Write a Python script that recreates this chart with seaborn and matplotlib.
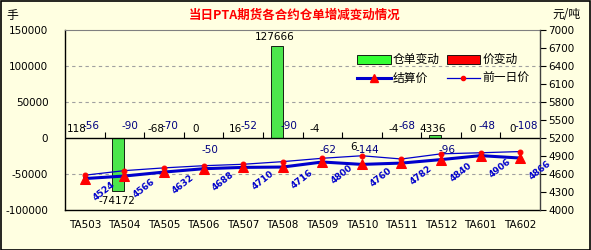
import matplotlib
matplotlib.use("Agg")
import matplotlib.pyplot as plt
import matplotlib.lines as mlines
import matplotlib.patches as mpatches
import pandas as pd
import seaborn as sns

contracts = ['TA503', 'TA504', 'TA505', 'TA506', 'TA507', 'TA508',
             'TA509', 'TA510', 'TA511', 'TA512', 'TA601', 'TA602']
warrant_change = [118, -74172, -68, 0, 16, 127666, -4, 6, -4, 4336, 0, 0]
price_change = [-56, -90, -70, -50, -52, -90, -62, -144, -68, -96, -48, -108]
settle_price = [4524, 4566, 4632, 4688, 4710, 4716, 4800, 4760, 4782, 4840, 4906, 4866]
prev_price = [4580, 4656, 4702, 4738, 4762, 4806, 4862, 4904, 4850, 4936, 4954, 4974]
left_ticks = [-100000, -50000, 0, 50000, 100000, 150000]
right_ticks = [4000, 4300, 4600, 4900, 5200, 5500, 5800, 6100, 6400, 6700, 7000]

# label placement styles (1 above, -1 below)
price_label_side = [1, 1, 1, -1, 1, 1, -1, -1, 1, -1, 1, 1]
warrant_label_side = [1, -1, 1, 1, 1, 1, 1, -1, 1, 1, 1, 1]

BG = '#FFFFE1'
plt.rcParams['font.family'] = ['DejaVu Sans', 'Noto Sans CJK SC']

fig = plt.figure(figsize=(5.91, 2.50), dpi=100, facecolor=BG)
ax = fig.add_axes([65/591, 40/250, 475/591, 180/250])
ax.set_facecolor(BG)

bars = pd.DataFrame({
    'contract': contracts * 2,
    'value': warrant_change + price_change,
    'kind': ['仓单变动'] * len(contracts) + ['价变动'] * len(contracts),
})
sns.barplot(data=bars, x='contract', y='value', hue='kind',
            palette={'仓单变动': '#33FF33', '价变动': '#FF0000'},
            width=0.6, edgecolor='#000000', linewidth=0.6,
            legend=False, ax=ax, zorder=3)

ax.set_ylim(-100000, 150000)
ax.set_xlim(-0.5, len(contracts) - 0.5)
ax.set_yticks(left_ticks)
ax.set_yticklabels([str(v) for v in left_ticks], fontsize=7.5)
ax.set_xlabel('')
ax.set_ylabel('')
ax.tick_params(axis='x', length=0, labelsize=7.5, pad=7)
ax.tick_params(axis='y', length=0, pad=12)
for v in left_ticks:
    if v not in (0, -100000, 150000):
        ax.axhline(v, color='#A0A0A0', lw=0.8, ls=(0, (3, 3)), zorder=1)
ax.axhline(0, color='#000000', lw=1.0, zorder=4)
for s in ['left', 'bottom']:
    ax.spines[s].set_color('#000000')
    ax.spines[s].set_linewidth(1.0)
ax.spines['top'].set_color('#808080')
ax.spines['top'].set_linewidth(0.8)
ax.spines['right'].set_visible(False)

# small boundary ticks on the zero line
sec = ax.secondary_xaxis(0.4)
sec.set_xticks([i + 0.5 for i in range(len(contracts) - 1)])
sec.set_xticklabels([])
sec.tick_params(axis='x', direction='in', length=4, width=0.8, color='#000000')
sec.spines['bottom'].set_visible(False)

# warehouse change labels
for i, v in enumerate(warrant_change):
    side = warrant_label_side[i]
    anchor = v if abs(v) > 20000 else 0
    ax.annotate(str(v), (i - 0.2, anchor), xytext=(0, 3 * side), textcoords='offset points',
                ha='center', va='bottom' if side > 0 else 'top',
                fontsize=7.5, color='#000000', zorder=6)
# price change labels
for i, v in enumerate(price_change):
    side = price_label_side[i]
    ax.annotate(str(v), (i + 0.15, 0), xytext=(0, 5 * side), textcoords='offset points',
                ha='center', va='bottom' if side > 0 else 'top',
                fontsize=7.5, color='#000080', zorder=6)

ax2 = ax.twinx()
ax2.set_facecolor('none')
lines = pd.DataFrame({'contract': contracts, 'settle': settle_price, 'prev': prev_price})
sns.lineplot(data=lines, x='contract', y='prev', ax=ax2, color='#0000CC', lw=0.9,
             marker='o', markersize=3.5, markerfacecolor='#FF0000',
             markeredgecolor='#FF0000', sort=False)
sns.lineplot(data=lines, x='contract', y='settle', ax=ax2, color='#0000CC', lw=2.2,
             marker='^', markersize=7, markerfacecolor='#FF0000',
             markeredgecolor='#FF0000', sort=False)
for i, v in enumerate(settle_price):
    ax2.annotate(str(v), (i, v), xytext=(14, -9), textcoords='offset points',
                 ha='center', va='center', rotation=38, fontsize=6.5,
                 color='#0000CC', fontweight='bold')
ax2.set_ylim(4000, 7000)
ax2.set_yticks(right_ticks)
ax2.set_yticklabels([str(v) for v in right_ticks], fontsize=7.5)
ax2.set_ylabel('')
ax2.set_xlabel('')
ax2.tick_params(axis='y', direction='out', length=4, color='#000000', pad=2)
ax2.spines['right'].set_color('#404040')
ax2.spines['right'].set_linewidth(1.0)
for s in ['left', 'bottom', 'top']:
    ax2.spines[s].set_visible(False)
ax2.set_xlim(-0.5, len(contracts) - 0.5)

handles = [
    mpatches.Patch(facecolor='#33FF33', edgecolor='#000000', lw=0.6, label='仓单变动'),
    mlines.Line2D([], [], color='#0000CC', lw=2.2, marker='^', markersize=6,
                  markerfacecolor='#FF0000', markeredgecolor='#FF0000', label='结算价'),
    mpatches.Patch(facecolor='#FF0000', edgecolor='#000000', lw=0.6, label='价变动'),
    mlines.Line2D([], [], color='#0000CC', lw=0.9, marker='o', markersize=3,
                  markerfacecolor='#FF0000', markeredgecolor='#FF0000', label='前一日价'),
]
leg = ax2.legend(handles=handles, ncol=2, loc='upper right', bbox_to_anchor=(1.0, 0.93),
                 frameon=False, prop={'family': ['Noto Sans CJK SC'], 'size': 8.5},
                 handlelength=2.8, handleheight=0.8, columnspacing=0.6,
                 handletextpad=0.2, labelspacing=0.5)

fig.text(295/591, 1 - 15/250, '当日PTA期货各合约仓单增减变动情况', ha='center', va='center',
         color='#FF0000', fontsize=9, fontweight='bold', family=['Noto Sans CJK SC'])
fig.text(12/591, 1 - 15/250, '手', ha='center', va='center', fontsize=8.5,
         family=['Noto Sans CJK SC'])
fig.text(566/591, 1 - 15/250, '元/吨', ha='center', va='center', fontsize=8.5,
         family=['Noto Sans CJK SC'])

border = mpatches.Rectangle((0.001, 0.002), 0.997, 0.995, transform=fig.transFigure,
                            fill=False, edgecolor='#000000', lw=1.2)
fig.patches.append(border)

fig.savefig('out.png', dpi=100, facecolor=BG)
